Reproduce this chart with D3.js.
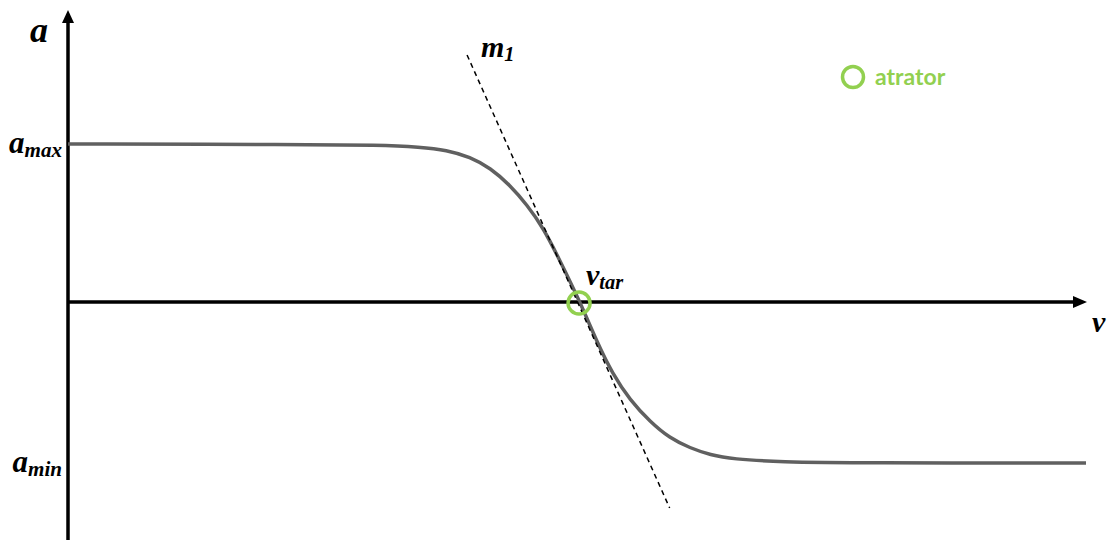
<!DOCTYPE html>
<html>
<head>
<meta charset="utf-8">
<script src="https://cdn.jsdelivr.net/npm/d3@7"></script>
<style>
  body { margin: 0; background: #fff; }
  svg { display: block; }
  .math { font-family: "Liberation Serif", "DejaVu Serif", serif; font-style: italic; font-weight: bold; fill: #000; }
</style>
</head>
<body>
<script>
// curve (v in arbitrary units, a scaled so a_max = 1)
const vData = [0, 22.8, 30.6, 34.6, 37.2, 39.5, 41.5, 43.4, 45.1, 46.7, 48.3, 50.3, 52.0, 53.5, 55.2, 57.2, 59.1, 61.1, 63.1, 65.3, 69.9, 77.8, 100];
const aData = [1.0, 0.997, 0.994, 0.981, 0.962, 0.918, 0.848, 0.74, 0.614, 0.468, 0.265, 0, -0.26, -0.456, -0.621, -0.76, -0.862, -0.925, -0.969, -0.995, -1.014, -1.02, -1.02];

// tangent m1 at v_tar
const tangentV = [39.2, 59.1];
const tangentA = [1.564, -1.305];

const vTar = 50.3;
const aMax = 1.0, aMin = -1.02;

let width = 1108,
    height = 540;

let svg = d3.select("body").append("svg").attr("width", width).attr("height", height);

let x = d3.scaleLinear().domain([0, 100]).range([68, 1086]);
let y = d3.scaleLinear().domain([aMin, aMax]).range([463, 144]);

let green = "#92d050";

// axes
let yTop = y(1.849), yBottom = 540;
svg.append("line")
    .attr("x1", x(0)).attr("x2", x(0))
    .attr("y1", yBottom).attr("y2", yTop + 10)
    .attr("stroke", "#000").attr("stroke-width", 3.5);
svg.append("path")
    .attr("d", "M" + (x(0) - 6) + "," + (yTop + 13) + "L" + x(0) + "," + yTop + "L" + (x(0) + 6) + "," + (yTop + 13) + "Z")
    .attr("fill", "#000");

let xEnd = x(100.1);
svg.append("line")
    .attr("x1", x(0)).attr("x2", xEnd - 10)
    .attr("y1", y(0)).attr("y2", y(0))
    .attr("stroke", "#000").attr("stroke-width", 3.5);
svg.append("path")
    .attr("d", "M" + (xEnd - 14) + "," + (y(0) - 6) + "L" + xEnd + "," + y(0) + "L" + (xEnd - 14) + "," + (y(0) + 6) + "Z")
    .attr("fill", "#000");

// curve
let line = d3.line()
    .x((d, i) => x(vData[i]))
    .y(d => y(d))
    .curve(d3.curveBasis);

svg.append("path")
    .datum(aData)
    .attr("d", line)
    .attr("fill", "none")
    .attr("stroke", "#606060")
    .attr("stroke-width", 3.5);

// tangent
svg.append("line")
    .attr("x1", x(tangentV[0])).attr("y1", y(tangentA[0]))
    .attr("x2", x(tangentV[1])).attr("y2", y(tangentA[1]))
    .attr("stroke", "#000")
    .attr("stroke-width", 1.5)
    .attr("stroke-dasharray", "5,4");

// attractor
svg.append("circle")
    .attr("cx", x(vTar) - 1).attr("cy", y(0) + 1)
    .attr("r", 11)
    .attr("fill", "none")
    .attr("stroke", green)
    .attr("stroke-width", 3.5);

// legend
svg.append("circle")
    .attr("cx", 853).attr("cy", 77)
    .attr("r", 10.5)
    .attr("fill", "none")
    .attr("stroke", green)
    .attr("stroke-width", 3.5);
svg.append("text")
    .attr("x", 875).attr("y", 85)
    .attr("font-family", "Lato, 'Open Sans', sans-serif")
    .attr("font-weight", "bold")
    .attr("font-size", 23)
    .attr("fill", green)
    .text("atrator");

// labels
function mathLabel(px, py, main, sub, anchor, size) {
    let t = svg.append("text")
        .attr("class", "math")
        .attr("x", px).attr("y", py)
        .attr("text-anchor", anchor || "start")
        .attr("font-size", size || 30);
    t.append("tspan").text(main);
    if (sub) {
        t.append("tspan")
            .attr("font-size", (size || 30) * 0.68)
            .attr("dy", 4)
            .text(sub);
    }
    return t;
}

mathLabel(30, 42, "a", null, "start", 36);
mathLabel(62, y(aMax) + 9, "a", "max", "end", 31);
mathLabel(62, y(aMin) + 9, "a", "min", "end", 31);
mathLabel(481, 57, "m", "1", "start");
mathLabel(586, 285, "v", "tar", "start");
mathLabel(1092, 332, "v", null, "start");
</script>
</body>
</html>
